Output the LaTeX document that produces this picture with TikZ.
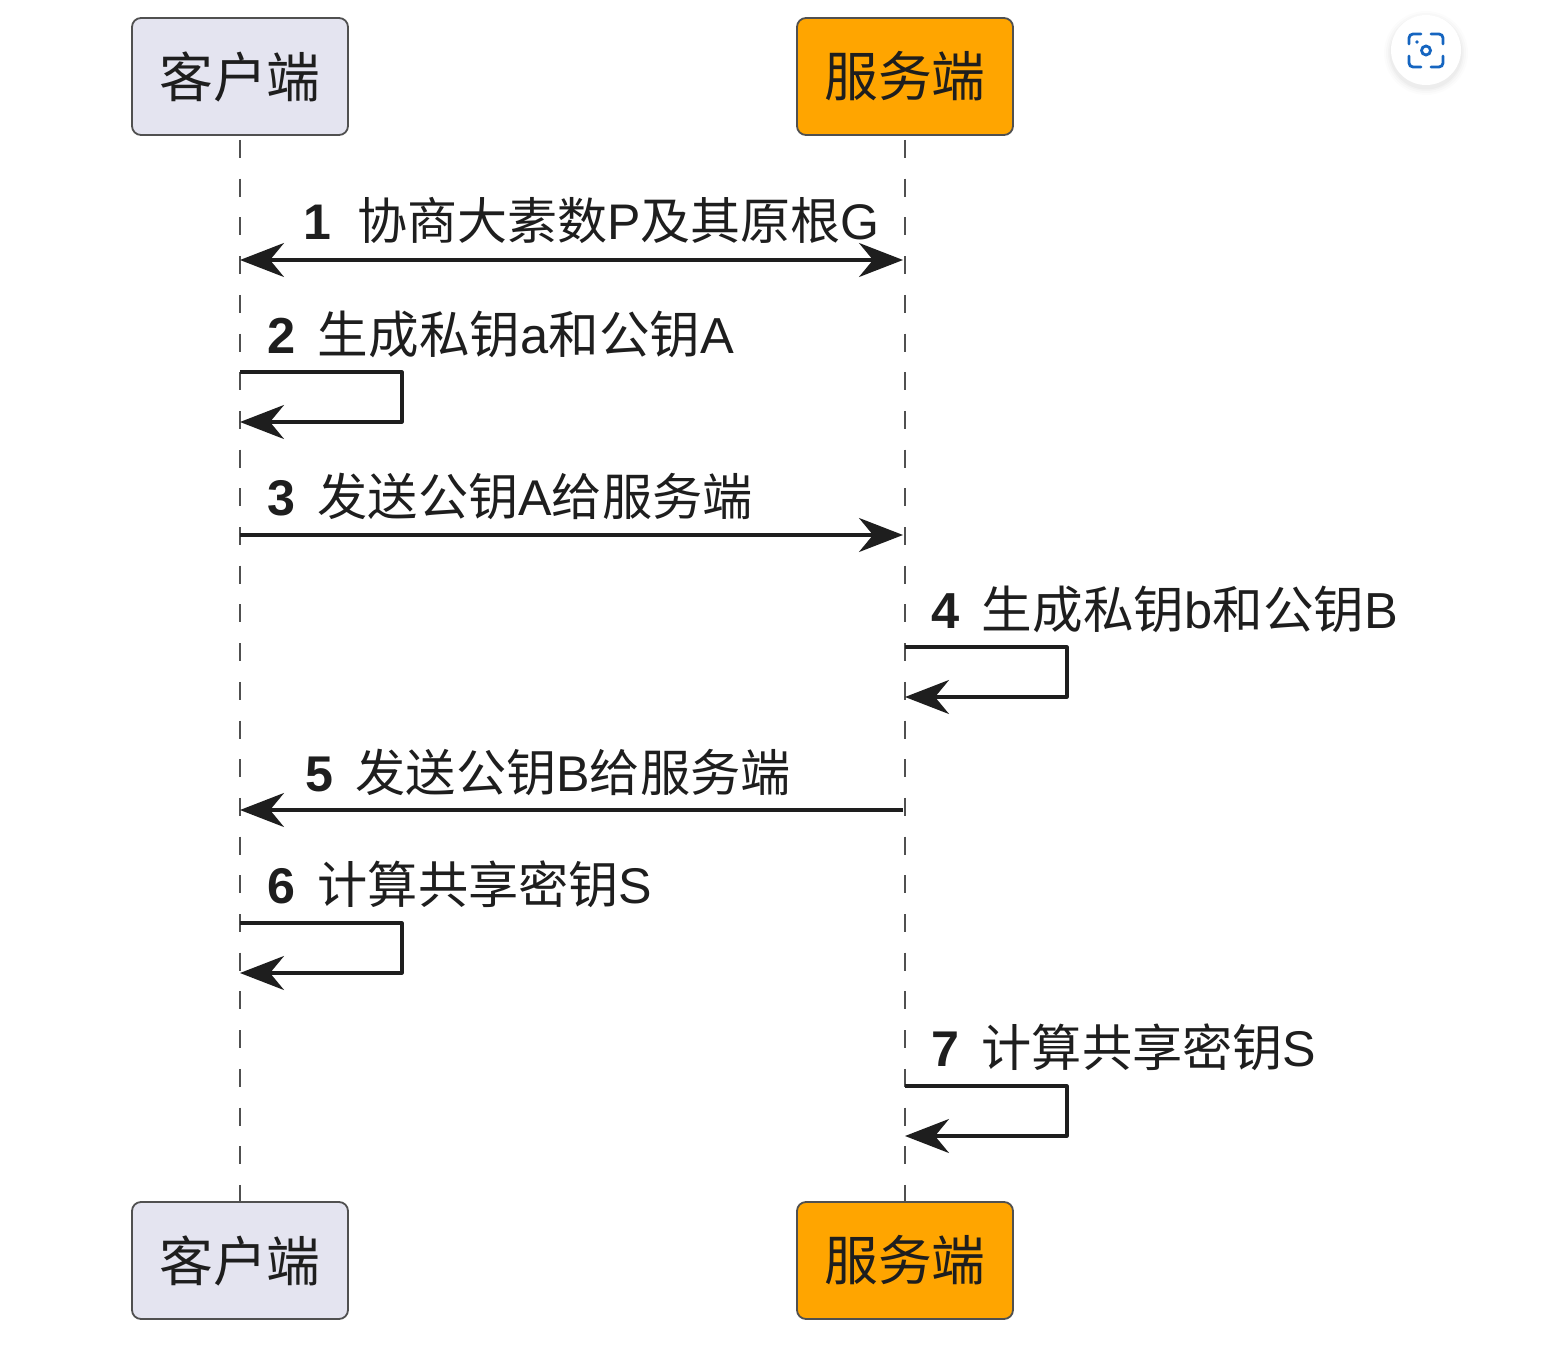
\documentclass[tikz,border=0pt]{standalone}
\usepackage{fontspec}
\setmainfont{Liberation Sans}
\newfontfamily\cjkfont{Noto Sans CJK SC}
\usetikzlibrary{arrows.meta}
\newcommand{\zh}[1]{{\cjkfont #1}}
\definecolor{actorfill}{HTML}{E4E4F0}
\definecolor{serverfill}{HTML}{FFA500}
\definecolor{boxline}{HTML}{505050}
\definecolor{ink}{HTML}{1E1E1E}
\definecolor{iconblue}{HTML}{1565C0}
\tikzset{
  actor/.style={draw=boxline, line width=1.8bp, rounded corners=9bp, minimum width=216bp,
    minimum height=117bp, inner sep=0pt, text=ink, font=\fontsize{54}{60}\selectfont\cjkfont},
  client/.style={actor, fill=actorfill},
  server/.style={actor, fill=serverfill},
  lifeline/.style={draw=boxline, line width=2bp, dash pattern=on 18bp off 20.7bp},
  msg/.style={draw=ink, line width=3.2bp, line join=round,
    >={Stealth[length=44bp,width=34bp,inset=14bp]}},
  msglabel/.style={anchor=base west, inner sep=0pt, text=ink, font=\fontsize{50.8}{58}\selectfont},
  tightlabel/.style={msglabel, font=\fontsize{50.4}{58}\selectfont}
}
\newcommand{\stepno}[1]{\textbf{#1}\hspace{22bp}}
\begin{document}
\begin{tikzpicture}[x=1bp,y=-1bp]
\useasboundingbox (0,0) rectangle (1568,1347);

% Participants, top and bottom
\node[client] (clientTop) at (240,76.5) {客户端};
\node[server] (serverTop) at (905,76.5) {服务端};
\node[client] (clientBot) at (240,1260.5) {客户端};
\node[server] (serverBot) at (905,1260.5) {服务端};

% Lifelines
\coordinate (clientStart) at (240,140);
\coordinate (serverStart) at (905,140);
\draw[lifeline] (clientStart) -- (clientBot.north);
\draw[lifeline] (serverStart) -- (serverBot.north);

% Message anchor points along the lifelines
\coordinate (c1) at (240,260);   \coordinate (s1) at (903,260);
\coordinate (c2a) at (240,372);  \coordinate (c2b) at (402,372);
\coordinate (c2c) at (402,422);  \coordinate (c2d) at (240,422);
\coordinate (c3) at (240,535);   \coordinate (s3) at (903,535);
\coordinate (s4a) at (905,647);  \coordinate (s4b) at (1067,647);
\coordinate (s4c) at (1067,697); \coordinate (s4d) at (905,697);
\coordinate (s5) at (903,810);   \coordinate (c5) at (240,810);
\coordinate (c6a) at (240,923);  \coordinate (c6b) at (402,923);
\coordinate (c6c) at (402,973);  \coordinate (c6d) at (240,973);
\coordinate (s7a) at (905,1086); \coordinate (s7b) at (1067,1086);
\coordinate (s7c) at (1067,1136);\coordinate (s7d) at (905,1136);

% Messages
\draw[msg,<->] (c1) -- (s1);
\draw[msg,->] (c2a) -- (c2b) -- (c2c) -- (c2d);
\draw[msg,->] (c3) -- (s3);
\draw[msg,->] (s4a) -- (s4b) -- (s4c) -- (s4d);
\draw[msg,->] (s5) -- (c5);
\draw[msg,->] (c6a) -- (c6b) -- (c6c) -- (c6d);
\draw[msg,->] (s7a) -- (s7b) -- (s7c) -- (s7d);

% Message labels
\node[msglabel, font=\fontsize{50.2}{58}\selectfont] (t1) at (303.5,240) {\stepno{1}\hspace{3.5bp}\zh{协商大素数}P\zh{及其原根}G};
\node[msglabel] (t2) at (267.5,353) {\stepno{2}\zh{生成私钥}a\zh{和公钥}A};
\node[tightlabel] (t3) at (267.5,515) {\stepno{3}\zh{发送公钥}A\zh{给服务端}};
\node[msglabel] (t4) at (931.5,628) {\stepno{4}\zh{生成私钥}b\zh{和公钥}B};
\node[tightlabel] (t5) at (305.5,791) {\stepno{5}\zh{发送公钥}B\zh{给服务端}};
\node[tightlabel] (t6) at (267.5,903) {\stepno{6}\zh{计算共享密钥}S};
\node[tightlabel] (t7) at (931.5,1066) {\stepno{7}\zh{计算共享密钥}S};

% Floating round button with a scan icon
\foreach \r/\o in {42/.012,40/.014,38/.018,36.5/.022}
  \fill[black,opacity=\o] (1426,53) circle[radius=\r];
\fill[white] (1426,50) circle[radius=35];
\begin{scope}[draw=iconblue, line width=2.8bp, line cap=round, rounded corners=4bp]
  \draw (1409,44) -- (1409,34) -- (1421,34);
  \draw (1431,34) -- (1443,34) -- (1443,44);
  \draw (1409,56) -- (1409,67) -- (1421,67);
  \draw (1431,67) -- (1443,67) -- (1443,56);
\end{scope}
\draw[iconblue, line width=2.8bp] (1426,50.5) circle[radius=4.5];
\fill[iconblue] (1417,42) circle[radius=1.9];
\end{tikzpicture}
\end{document}
